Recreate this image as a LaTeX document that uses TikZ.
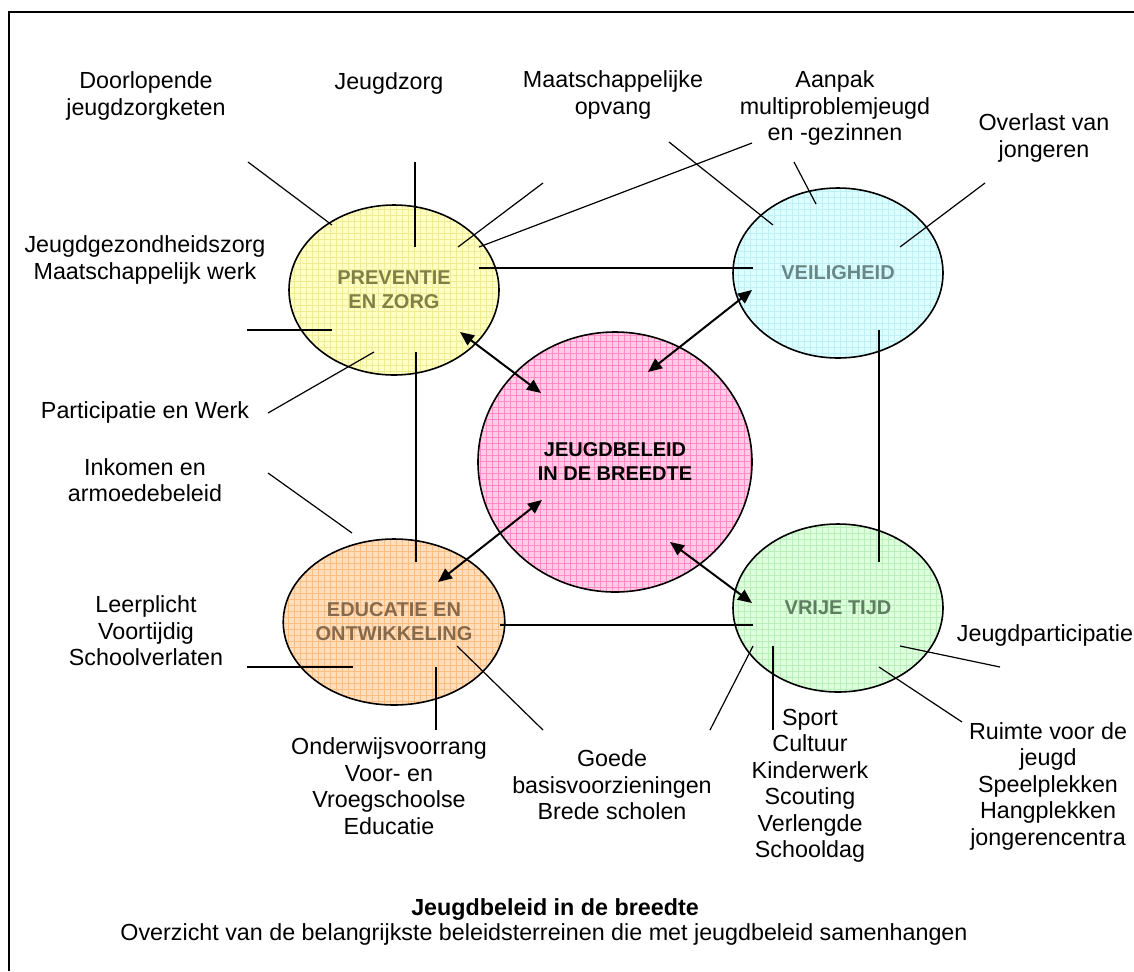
\documentclass[tikz,border=0pt]{standalone}
\usepackage{fontspec}
\setmainfont{Liberation Sans}
\usepackage{xcolor}
\usepackage{tikz}
\usetikzlibrary{shapes.geometric, arrows.meta, patterns}
\definecolor{zorgfill}{RGB}{255, 255, 196}
\definecolor{zorggrid}{RGB}{240, 236, 150}
\definecolor{zorgtext}{RGB}{128, 128, 70}
\definecolor{veilfill}{RGB}{222, 255, 255}
\definecolor{veilgrid}{RGB}{190, 240, 245}
\definecolor{veiltext}{RGB}{105, 135, 135}
\definecolor{centfill}{RGB}{255, 205, 230}
\definecolor{centgrid}{RGB}{255, 140, 200}
\definecolor{edufill}{RGB}{255, 222, 188}
\definecolor{edugrid}{RGB}{250, 190, 130}
\definecolor{edutext}{RGB}{135, 105, 75}
\definecolor{vrijfill}{RGB}{222, 255, 222}
\definecolor{vrijgrid}{RGB}{185, 240, 185}
\definecolor{vrijtext}{RGB}{95, 125, 95}
\tikzstyle{area} = [ellipse, draw=black, line width=0.8pt, inner sep=0pt, minimum width=105pt, minimum height=85pt, text centered, align=center, font=\bfseries, pattern=grid]
\tikzstyle{topic} = [align=center, inner sep=1pt]
\tikzstyle{spoke} = [line width=0.6pt]
\tikzstyle{arrow} = [line width=1pt, {Triangle[length=7pt,width=6pt]}-{Triangle[length=7pt,width=6pt]}]

\begin{document}
\begin{tikzpicture}[x=0.5pt, y=-0.5pt, font=\fontsize{11.65pt}{13.25pt}\selectfont]
    \useasboundingbox (0,0) rectangle (1134,971);
    % Frame
    \coordinate (fa) at (9,971);
    \coordinate (fb) at (9,12);
    \coordinate (fc) at (1134,12);
    \draw[line width=1pt] (fa) -- (fb) -- (fc);

    % Areas
    \node[area, preaction={fill=zorgfill}, pattern color=zorggrid, text=zorgtext] (prev) at (394,290) {PREVENTIE\\EN ZORG};
    \node[area, preaction={fill=veilfill}, pattern color=veilgrid, text=veiltext] (veil) at (838,273) {VEILIGHEID};
    \node[area, preaction={fill=centfill}, pattern color=centgrid, minimum width=137pt, minimum height=130pt] (jeugd) at (615,462) {JEUGDBELEID\\IN DE BREEDTE};
    \node[area, preaction={fill=edufill}, pattern color=edugrid, text=edutext, minimum height=83pt] (edu) at (394,622) {EDUCATIE EN\\ONTWIKKELING};
    \node[area, preaction={fill=vrijfill}, pattern color=vrijgrid, text=vrijtext, minimum height=84pt] (vrij) at (838,608) {VRIJE TIJD};

    % Topics
    \node[topic] (doorl) at (146,96) {Doorlopende\\jeugdzorgketen};
    \node[topic] (jzorg) at (389,83) {Jeugdzorg};
    \node[topic] (maats) at (613,95) {Maatschappelijke\\opvang};
    \node[topic] (aanpak) at (835,108) {Aanpak\\multiproblemjeugd\\en -gezinnen};
    \node[topic] (overlast) at (1044,138) {Overlast van\\jongeren};
    \node[topic] (jgz) at (145,260) {Jeugdgezondheidszorg\\Maatschappelijk werk};
    \node[topic] (partic) at (145,412) {Participatie en Werk};
    \node[topic] (inkomen) at (145,480) {Inkomen en\\armoedebeleid};
    \node[topic] (leerpl) at (146,631) {Leerplicht\\Voortijdig\\Schoolverlaten};
    \node[topic] (onderw) at (389,786) {Onderwijsvoorrang\\Voor- en\\Vroegschoolse\\Educatie};
    \node[topic] (goede) at (612,785) {Goede\\basisvoorzieningen\\Brede scholen};
    \node[topic] (sport) at (810,786) {Sport\\Cultuur\\Kinderwerk\\Scouting\\Verlengde\\Schooldag};
    \node[topic] (jpart) at (1045,635) {Jeugdparticipatie};
    \node[topic] (ruimte) at (1048,786) {Ruimte voor de\\jeugd\\Speelplekken\\Hangplekken\\jongerencentra};

    % Caption
    \node[font=\fontsize{11.65pt}{13.25pt}\selectfont\bfseries] (title) at (555,910) {Jeugdbeleid in de breedte};
    \node (subtitle) at (544,934) {Overzicht van de belangrijkste beleidsterreinen die met jeugdbeleid samenhangen};

    % Spoke ends
    \coordinate (d1) at (248,162); \coordinate (d2) at (332,225);
    \coordinate (z1) at (415,162); \coordinate (z2) at (415,247);
    \coordinate (m1) at (543,183); \coordinate (m2) at (458,247);
    \coordinate (m3) at (669,142); \coordinate (m4) at (773,225);
    \coordinate (a1) at (752,143); \coordinate (a2) at (479,247);
    \coordinate (a3) at (794,162); \coordinate (a4) at (816,204);
    \coordinate (o1) at (985,183); \coordinate (o2) at (900,247);
    \coordinate (g1) at (247,330); \coordinate (g2) at (332,330);
    \coordinate (p1) at (268,413); \coordinate (p2) at (374,352);
    \coordinate (i1) at (268,473); \coordinate (i2) at (352,533);
    \coordinate (l1) at (247,667); \coordinate (l2) at (353,667);
    \coordinate (w1) at (436,667); \coordinate (w2) at (436,730);
    \coordinate (b1) at (457,646); \coordinate (b2) at (543,730);
    \coordinate (s1) at (753,646); \coordinate (s2) at (710,730);
    \coordinate (s3) at (773,646); \coordinate (s4) at (773,730);
    \coordinate (j1) at (900,646); \coordinate (j2) at (1000,667);
    \coordinate (r1) at (879,667); \coordinate (r2) at (962,722);
    \coordinate (pv1) at (479,268); \coordinate (pv2) at (753,268);
    \coordinate (pe1) at (416,352); \coordinate (pe2) at (416,562);
    \coordinate (vt1) at (879,330); \coordinate (vt2) at (879,562);
    \coordinate (et1) at (500,625); \coordinate (et2) at (753,625);

    % Spokes
    \draw[spoke] (d1) -- (d2);
    \draw[spoke] (z1) -- (z2);
    \draw[spoke] (m1) -- (m2);
    \draw[spoke] (m3) -- (m4);
    \draw[spoke] (a1) -- (a2);
    \draw[spoke] (a3) -- (a4);
    \draw[spoke] (o1) -- (o2);
    \draw[spoke] (g1) -- (g2);
    \draw[spoke] (p1) -- (p2);
    \draw[spoke] (i1) -- (i2);
    \draw[spoke] (l1) -- (l2);
    \draw[spoke] (w1) -- (w2);
    \draw[spoke] (b1) -- (b2);
    \draw[spoke] (s1) -- (s2);
    \draw[spoke] (s3) -- (s4);
    \draw[spoke] (j1) -- (j2);
    \draw[spoke] (r1) -- (r2);
    \draw[spoke] (pv1) -- (pv2);
    \draw[spoke] (pe1) -- (pe2);
    \draw[spoke] (vt1) -- (vt2);
    \draw[spoke] (et1) -- (et2);

    % Arrows
    \coordinate (hp) at (460,332); \coordinate (hj1) at (541,393);
    \coordinate (hv) at (752,290); \coordinate (hj2) at (648,372);
    \coordinate (he) at (438,582); \coordinate (hj3) at (542,500);
    \coordinate (ht) at (752,603); \coordinate (hj4) at (670,542);
    \draw[arrow] (hp) -- (hj1);
    \draw[arrow] (hv) -- (hj2);
    \draw[arrow] (he) -- (hj3);
    \draw[arrow] (ht) -- (hj4);
\end{tikzpicture}
\end{document}
